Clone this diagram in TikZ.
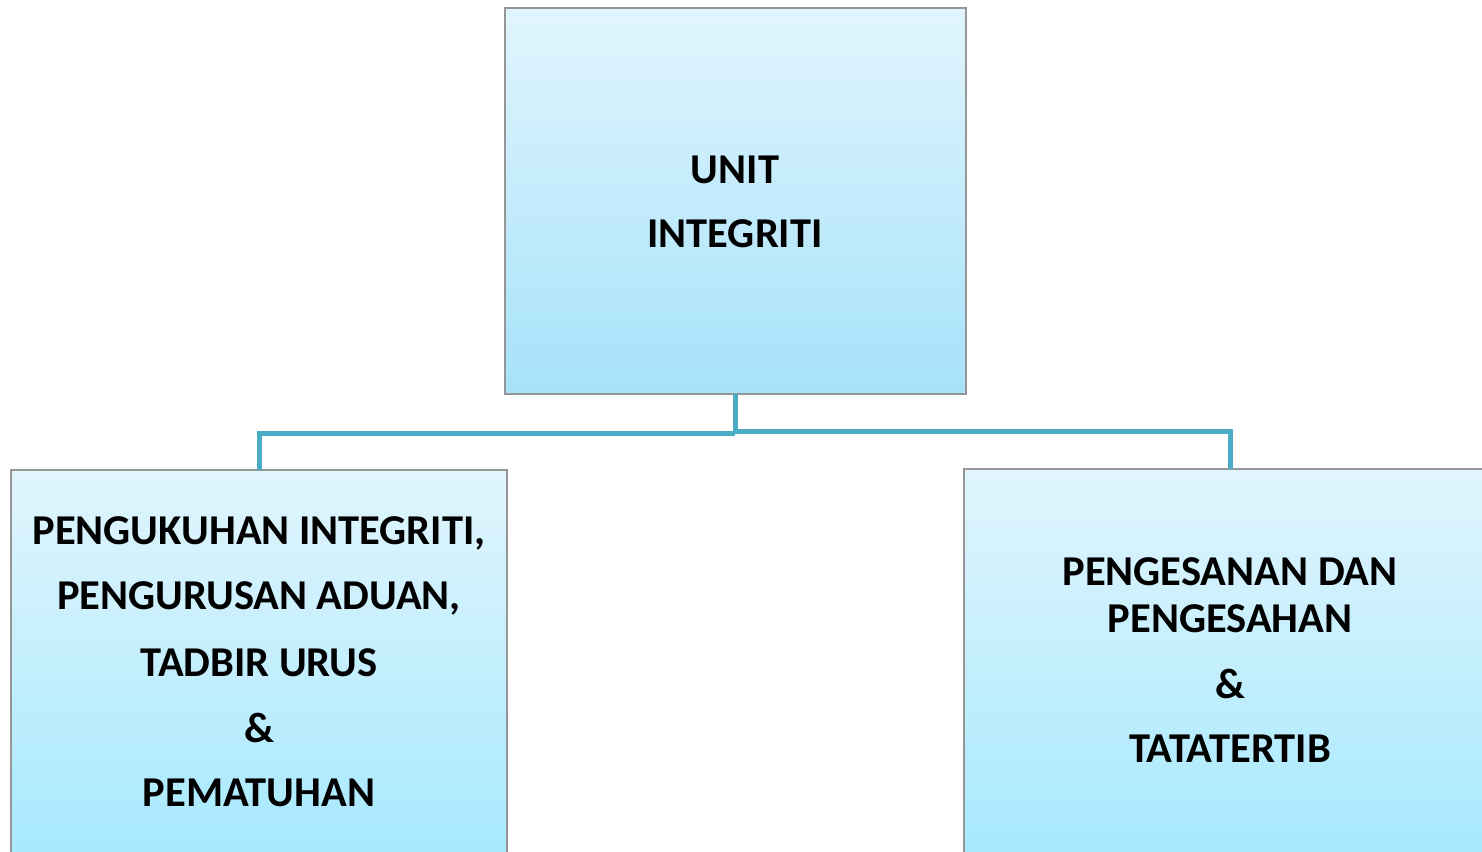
\documentclass[tikz,border=0pt]{standalone}
\usepackage{fontspec}
\setmainfont{Carlito}
\definecolor{boxtop}{RGB}{225,245,253}
\definecolor{boxbot}{RGB}{166,226,250}
\definecolor{boxbotb}{RGB}{163,232,254}
\definecolor{edgegray}{RGB}{150,150,150}
\definecolor{linkc}{RGB}{75,172,198}
\tikzset{
  orgbox/.style={draw=edgegray, line width=1.6pt, top color=boxtop, inner sep=0pt},
  lbl/.style={font=\bfseries\fontsize{42.5}{65}\selectfont, align=center, inner sep=0pt, text=black},
  link/.style={draw=linkc, line width=5pt}
}
\begin{document}
\begin{tikzpicture}[x=1pt,y=-1pt]
\useasboundingbox (0,0) rectangle (1482,851);
\fill[white] (0,0) rectangle (1482,851);
% boxes
\path[orgbox, bottom color=boxbot] (505,8) rectangle (966,394);
\node[coordinate] (topbot) at (735,394) {};
\path[orgbox, bottom color=boxbotb] (11,470) rectangle (507,880);
\node[coordinate] (ltop) at (259,470) {};
\path[orgbox, bottom color=boxbotb] (964,469) rectangle (1500,880);
\node[coordinate] (rtop) at (1230,469) {};
% connectors
\coordinate (jl) at (735,433);
\coordinate (jr) at (735,431);
\draw[link] (topbot) -- (735,433);
\draw[link] (jl) -| (ltop);
\draw[link] (jr) -| (rtop);
% texts
\node[lbl] (t1) at (735,170) {UNIT};
\node[lbl] (t2) at (735,234) {INTEGRITI};
\node[lbl] (l1) at (259,533) {PENGUKUHAN INTEGRITI,};
\node[lbl] (l2) at (259,598) {PENGURUSAN ADUAN,};
\node[lbl] (l3) at (259,663) {TADBIR URUS};
\node[lbl] (l4) at (259,728) {\&};
\node[lbl] (l5) at (259,793) {PEMATUHAN};
\node[lbl] (r1) at (1230,572) {PENGESANAN DAN};
\node[lbl] (r2) at (1230,619) {PENGESAHAN};
\node[lbl] (r3) at (1230,684) {\&};
\node[lbl] (r4) at (1230,749) {TATATERTIB};
\end{tikzpicture}
\end{document}
